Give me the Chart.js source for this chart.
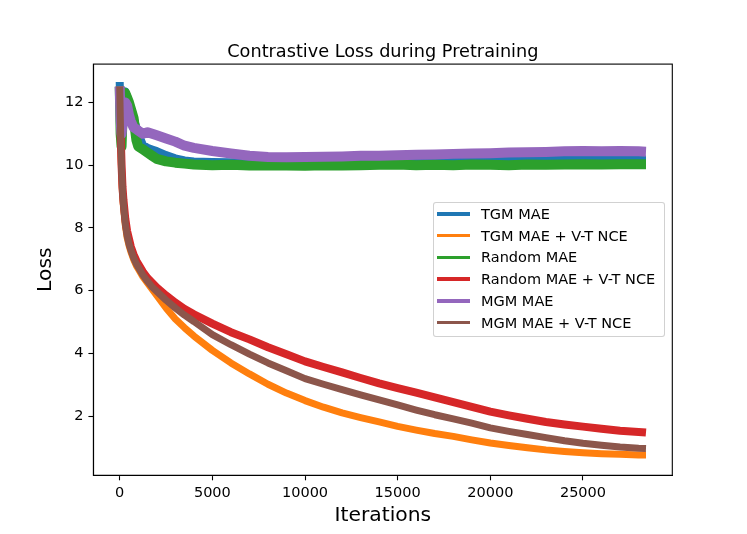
<!doctype html>
<html>
<head>
    <title>Contrastive Loss during Pretraining</title>
    <script src="https://cdn.jsdelivr.net/npm/chart.js"></script>
    <style>
        body { margin: 0; background: #fff; font-family: "DejaVu Sans", sans-serif; }
        #wrap { position: relative; width: 747px; height: 534px; }
        #legenda {
            position: absolute; left: 433px; top: 202px; width: 230px;
            border: 1px solid rgba(204, 204, 204, 0.9); border-radius: 3px;
            background: rgba(255, 255, 255, 0.8); padding: 0 0 2px 0;
            font-size: 14.5px; color: #000;
        }
        .item { height: 21.75px; display: flex; align-items: center; }
        .linha { width: 33px; height: 3.5px; margin-left: 3px; margin-right: 11px; }
    </style>
</head>
<body>
<div id="wrap">
    <canvas id="grafico" width="747" height="534"></canvas>
    <div id="legenda"></div>
</div>

<script>
    const TITULO = 'Contrastive Loss during Pretraining';

    // iteracoes onde os valores foram lidos
    const iters = [0, 50, 100, 150, 200, 300, 400, 500, 600, 750, 900, 1000, 1250, 1500, 1750, 2000,
        2500, 3000, 3500, 4000, 5000, 6000, 7000, 8000, 9000, 10000, 11000, 12000, 13000, 14000, 15000,
        16000, 17000, 18000, 19000, 20000, 21000, 22000, 23000, 24000, 25000, 26000, 27000, 28000, 28400];

    const tgmMae = [12.65, 11.2, 11.0, 11.6, 12.1, 12.35, 12.2, 12.0, 11.8, 11.5, 11.2, 11.0, 10.65, 10.55, 10.5, 10.45,
        10.32, 10.22, 10.15, 10.12, 10.1, 10.09, 10.1, 10.09, 10.1, 10.1, 10.11, 10.1, 10.12, 10.13, 10.15,
        10.15, 10.16, 10.17, 10.17, 10.18, 10.18, 10.19, 10.18, 10.18, 10.19, 10.18, 10.19, 10.18, 10.18];
    const tgmNce = [12.5, 10.8, 9.8, 9.1, 8.7, 8.1, 7.7, 7.45, 7.25, 7.0, 6.8, 6.7, 6.45, 6.25, 6.05, 5.85,
        5.45, 5.1, 4.82, 4.56, 4.1, 3.7, 3.35, 3.02, 2.74, 2.5, 2.29, 2.11, 1.96, 1.82, 1.68,
        1.56, 1.45, 1.36, 1.25, 1.15, 1.07, 1.0, 0.93, 0.88, 0.84, 0.81, 0.79, 0.77, 0.77];
    const randomMae = [12.5, 11.0, 10.6, 11.5, 12.0, 12.3, 12.15, 12.0, 11.8, 11.5, 10.8, 10.6, 10.5, 10.4, 10.3, 10.2,
        10.12, 10.08, 10.05, 10.02, 10.0, 10.01, 9.99, 10.0, 9.99, 9.98, 10.0, 9.99, 10.0, 10.01, 10.02,
        10.0, 10.01, 10.0, 10.02, 10.01, 10.0, 10.02, 10.01, 10.02, 10.03, 10.02, 10.03, 10.03, 10.03];
    const randomNce = [12.5, 11.0, 10.0, 9.3, 8.9, 8.3, 7.9, 7.65, 7.4, 7.15, 6.95, 6.85, 6.6, 6.4, 6.25, 6.1,
        5.85, 5.62, 5.42, 5.25, 4.95, 4.68, 4.45, 4.2, 3.98, 3.75, 3.57, 3.4, 3.22, 3.05, 2.9,
        2.75, 2.6, 2.45, 2.3, 2.15, 2.03, 1.92, 1.82, 1.74, 1.67, 1.6, 1.54, 1.5, 1.48];
    const mgmMae = [12.5, 11.4, 11.0, 11.3, 11.6, 12.0, 11.9, 11.6, 11.4, 11.2, 11.15, 11.1, 11.0, 11.05, 11.0, 10.95,
        10.85, 10.75, 10.62, 10.55, 10.45, 10.37, 10.3, 10.26, 10.25, 10.26, 10.27, 10.28, 10.3, 10.3, 10.32,
        10.33, 10.34, 10.36, 10.37, 10.38, 10.4, 10.41, 10.42, 10.44, 10.45, 10.44, 10.45, 10.44, 10.43];
    const mgmNce = [12.5, 10.9, 9.9, 9.2, 8.75, 8.15, 7.75, 7.5, 7.3, 7.05, 6.85, 6.75, 6.5, 6.3, 6.12, 5.98,
        5.7, 5.45, 5.22, 5.02, 4.6, 4.28, 3.98, 3.7, 3.45, 3.2, 3.02, 2.85, 2.68, 2.52, 2.36,
        2.2, 2.05, 1.92, 1.78, 1.63, 1.52, 1.42, 1.32, 1.22, 1.14, 1.08, 1.02, 0.98, 0.97];

    const nomes = ['TGM MAE', 'TGM MAE + V-T NCE', 'Random MAE', 'Random MAE + V-T NCE', 'MGM MAE', 'MGM MAE + V-T NCE'];
    const series = [tgmMae, tgmNce, randomMae, randomNce, mgmMae, mgmNce];
    const cores = ['#1f77b4', '#ff7f0e', '#2ca02c', '#d62728', '#9467bd', '#8c564b'];
    const espessuras = [8, 7, 10, 8, 10, 7];

    const xTicks = [0, 5000, 10000, 15000, 20000, 25000];
    const yTicks = [2, 4, 6, 8, 10, 12];

    const FONTE = '"DejaVu Sans", sans-serif';

    // moldura dos quatro lados e titulo centrado na area do grafico
    const moldura = {
        id: 'moldura',
        afterDraw(chart) {
            const a = chart.chartArea, ctx = chart.ctx;
            ctx.save();
            ctx.strokeStyle = '#000';
            ctx.lineWidth = 1.1;
            ctx.strokeRect(a.left, a.top, a.right - a.left, a.bottom - a.top);
            ctx.fillStyle = '#000';
            ctx.font = '17.7px ' + FONTE;
            ctx.textAlign = 'center';
            ctx.textBaseline = 'alphabetic';
            ctx.fillText(TITULO, (a.left + a.right) / 2, a.top - 7);
            ctx.restore();
        }
    };

    const eixo = {
        grid: { display: true, drawOnChartArea: false, drawTicks: true, tickLength: 5, tickColor: '#000', tickWidth: 1.1 },
        border: { display: true, color: '#000', width: 1.1 },
    };

    new Chart(document.getElementById('grafico').getContext('2d'), {
        type: 'line',
        data: {
            datasets: series.map((s, i) => ({
                label: nomes[i],
                data: s.map((v, j) => ({ x: iters[j], y: v })),
                borderColor: cores[i],
                backgroundColor: cores[i],
                borderWidth: espessuras[i],
                borderJoinStyle: 'round',
                pointRadius: 0,
                fill: false,
                tension: 0,
                order: series.length - i // a ultima serie fica por cima, como no matplotlib
            }))
        },
        options: {
            responsive: false,
            animation: false,
            layout: { padding: { left: 0, right: 74.7, top: 64.1, bottom: 0 } },
            scales: {
                x: {
                    ...eixo,
                    type: 'linear',
                    min: -1420,
                    max: 29820,
                    afterBuildTicks: s => { s.ticks = xTicks.map(v => ({ value: v })); },
                    afterFit: s => { s.height = 58.7; },
                    ticks: { color: '#000', padding: 4, font: { family: FONTE, size: 14.5 }, callback: v => String(v), maxRotation: 0 },
                    title: { display: true, text: 'Iterations', color: '#000', font: { family: FONTE, size: 20.3 }, padding: { top: 0, bottom: 5.8 } }
                },
                y: {
                    ...eixo,
                    type: 'linear',
                    min: 0.12,
                    max: 13.22,
                    afterBuildTicks: s => { s.ticks = yTicks.map(v => ({ value: v })); },
                    afterFit: s => { s.width = 93.4; },
                    ticks: { color: '#000', padding: 5, font: { family: FONTE, size: 14.5 }, callback: v => String(v) },
                    title: { display: true, text: 'Loss', color: '#000', font: { family: FONTE, size: 20.3 }, padding: { top: 33.8, bottom: 0 } }
                }
            },
            plugins: {
                legend: { display: false },
                tooltip: { enabled: false },
                title: { display: false }
            }
        },
        plugins: [moldura]
    });

    // legenda em html, dentro da area do grafico
    const legenda = document.getElementById('legenda');
    nomes.forEach((n, i) => {
        const item = document.createElement('div');
        item.className = 'item';
        item.innerHTML = '<span class="linha" style="background:' + cores[i] + '"></span><span>' + n + '</span>';
        legenda.appendChild(item);
    });
</script>
</body>
</html>
